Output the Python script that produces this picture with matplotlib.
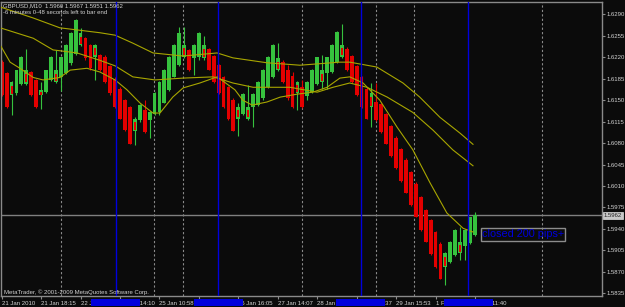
import matplotlib
matplotlib.use("Agg")
import matplotlib.pyplot as plt
from matplotlib.patches import Rectangle

# velas (indice de barra -> O, H, L, C)
opens = [1.6212, 1.6194, 1.6158, 1.6161, 1.6176, 1.6177, 1.6196, 1.6183, 1.6158, 1.6164,
         1.6183, 1.6180, 1.6188, 1.6195, 1.6210, 1.6226, 1.6240, 1.6251, 1.6240, 1.6221,
         1.6224, 1.6221, 1.6205, 1.6185, 1.6169, 1.6150, 1.6139, 1.6099, 1.6117, 1.6134,
         1.6117, 1.6128, 1.6131, 1.6146, 1.6166, 1.6188, 1.6207, 1.6221, 1.6232, 1.6218,
         1.6221, 1.6218, 1.6233, 1.6222, 1.6207, 1.6188, 1.6171, 1.6151, 1.6120, 1.6127,
         1.6120, 1.6139, 1.6142, 1.6153, 1.6172, 1.6188, 1.6199, 1.6213, 1.6200, 1.6189,
         1.6161, 1.6172, 1.6156, 1.6164, 1.6177, 1.6180, 1.6194, 1.6196, 1.6212, 1.6221,
         1.6234, 1.6222, 1.6206, 1.6188, 1.6169, 1.6139, 1.6147, 1.6144, 1.6127, 1.6108,
         1.6089, 1.6070, 1.6053, 1.6033, 1.6014, 1.5992, 1.5971, 1.5954, 1.5935, 1.5916,
         1.5878, 1.5886, 1.5897, 1.5900, 1.5912, 1.5917, 1.5930]
highs = [1.6215, 1.6196, 1.6181, 1.6200, 1.6222, 1.6233, 1.6198, 1.6185, 1.6180, 1.6200,
         1.6222, 1.6232, 1.6221, 1.6241, 1.6261, 1.6282, 1.6267, 1.6253, 1.6242, 1.6242,
         1.6226, 1.6223, 1.6207, 1.6187, 1.6171, 1.6152, 1.6141, 1.6122, 1.6143, 1.6151,
         1.6133, 1.6163, 1.6181, 1.6201, 1.6222, 1.6241, 1.6270, 1.6269, 1.6234, 1.6241,
         1.6261, 1.6255, 1.6235, 1.6224, 1.6209, 1.6190, 1.6173, 1.6153, 1.6145, 1.6161,
         1.6175, 1.6161, 1.6181, 1.6201, 1.6222, 1.6241, 1.6243, 1.6215, 1.6207, 1.6196,
         1.6181, 1.6183, 1.6181, 1.6201, 1.6221, 1.6224, 1.6221, 1.6241, 1.6262, 1.6274,
         1.6236, 1.6224, 1.6208, 1.6190, 1.6171, 1.6178, 1.6178, 1.6146, 1.6129, 1.6110,
         1.6091, 1.6072, 1.6055, 1.6035, 1.6016, 1.5994, 1.5973, 1.5956, 1.5937, 1.5918,
         1.5902, 1.5920, 1.5940, 1.5943, 1.5940, 1.5960, 1.5967]
lows = [1.6156, 1.6137, 1.6126, 1.6159, 1.6174, 1.6175, 1.6156, 1.6137, 1.6135, 1.6162,
        1.6181, 1.6178, 1.6165, 1.6193, 1.6208, 1.6224, 1.6238, 1.6216, 1.6200, 1.6183,
        1.6198, 1.6178, 1.6159, 1.6137, 1.6119, 1.6100, 1.6078, 1.6077, 1.6115, 1.6096,
        1.6088, 1.6126, 1.6126, 1.6145, 1.6165, 1.6187, 1.6206, 1.6219, 1.6198, 1.6191,
        1.6215, 1.6216, 1.6199, 1.6178, 1.6160, 1.6137, 1.6118, 1.6099, 1.6091, 1.6125,
        1.6118, 1.6106, 1.6140, 1.6151, 1.6170, 1.6186, 1.6197, 1.6178, 1.6151, 1.6137,
        1.6134, 1.6137, 1.6150, 1.6162, 1.6175, 1.6169, 1.6169, 1.6194, 1.6210, 1.6218,
        1.6198, 1.6178, 1.6157, 1.6138, 1.6119, 1.6107, 1.6116, 1.6097, 1.6078, 1.6058,
        1.6038, 1.6017, 1.5998, 1.5978, 1.5959, 1.5937, 1.5918, 1.5898, 1.5877, 1.5858,
        1.5848, 1.5885, 1.5896, 1.5889, 1.5889, 1.5916, 1.5929]
closes = [1.6158, 1.6139, 1.6180, 1.6199, 1.6221, 1.6199, 1.6158, 1.6139, 1.6166, 1.6199,
          1.6221, 1.6199, 1.6220, 1.6240, 1.6260, 1.6281, 1.6259, 1.6218, 1.6202, 1.6240,
          1.6199, 1.6180, 1.6161, 1.6139, 1.6120, 1.6101, 1.6079, 1.6120, 1.6142, 1.6098,
          1.6131, 1.6161, 1.6180, 1.6200, 1.6221, 1.6240, 1.6260, 1.6240, 1.6199, 1.6240,
          1.6260, 1.6240, 1.6200, 1.6180, 1.6161, 1.6139, 1.6120, 1.6100, 1.6139, 1.6160,
          1.6139, 1.6160, 1.6180, 1.6200, 1.6221, 1.6240, 1.6218, 1.6180, 1.6153, 1.6139,
          1.6180, 1.6139, 1.6180, 1.6200, 1.6220, 1.6199, 1.6220, 1.6240, 1.6261, 1.6240,
          1.6199, 1.6180, 1.6158, 1.6139, 1.6120, 1.6161, 1.6117, 1.6098, 1.6079, 1.6059,
          1.6039, 1.6018, 1.5999, 1.5979, 1.5960, 1.5938, 1.5919, 1.5899, 1.5878, 1.5859,
          1.5900, 1.5919, 1.5939, 1.5919, 1.5939, 1.5959, 1.5962]
# barras verdes con relleno rojo interior
mixed = [2, 5, 8, 11, 16, 19, 27, 37, 41, 48, 50, 56, 60, 65, 69, 75, 90, 93]

# medias moviles (barra, precio)
ma_slow_x = [-0.3, 6.4, 11.8, 19.9, 23.0, 26.6, 30.7, 36.8, 43.7, 46.9, 53.8, 60.5,
             68.6, 70.6, 76.1, 81.4, 84.8, 88.9, 93.0, 95.6]
ma_slow_y = [1.6302, 1.6284, 1.6268, 1.6260, 1.6256, 1.6243, 1.6227, 1.6222, 1.6227, 1.6219,
             1.6211, 1.6207, 1.6212, 1.6212, 1.6204, 1.6178, 1.6155, 1.6122, 1.6096, 1.6078]
ma_mid_x = [-0.3, 6.4, 10.4, 15.3, 19.9, 23.0, 26.6, 31.1, 36.8, 42.9, 46.9, 51.0, 58.5,
            64.0, 67.2, 70.6, 74.1, 78.2, 83.4, 87.5, 91.5, 95.6]
ma_mid_y = [1.6268, 1.6251, 1.6232, 1.6227, 1.6215, 1.6206, 1.6188, 1.6183, 1.6186, 1.6188,
            1.6178, 1.6171, 1.6171, 1.6163, 1.6171, 1.6178, 1.6171, 1.6155, 1.6130, 1.6101,
            1.6069, 1.6043]
ma_fast_x = [-0.3, 1.7, 3.7, 6.4, 8.4, 11.8, 13.9, 17.3, 19.9, 23.0, 25.4, 28.1, 30.7, 32.1,
             34.7, 36.8, 40.2, 43.7, 47.3, 48.9, 50.8, 53.8, 56.5, 60.1, 63.1, 66.0, 68.6,
             70.6, 73.3, 76.7, 80.2, 83.4, 86.9, 90.3, 93.6, 95.6]
ma_fast_y = [1.6240, 1.6212, 1.6202, 1.6187, 1.6183, 1.6187, 1.6199, 1.6202, 1.6196, 1.6183,
             1.6167, 1.6145, 1.6129, 1.6129, 1.6155, 1.6170, 1.6178, 1.6188, 1.6167, 1.6150,
             1.6142, 1.6147, 1.6155, 1.6160, 1.6163, 1.6171, 1.6186, 1.6188, 1.6178, 1.6150,
             1.6106, 1.6069, 1.6015, 1.5966, 1.5941, 1.5935]

price_ticks = [1.6290, 1.6255, 1.6220, 1.6185, 1.6150, 1.6115, 1.6080, 1.6045,
               1.6010, 1.5975, 1.5940, 1.5905, 1.5870, 1.5835]
time_ticks = [0, 8, 16, 24, 32, 40, 48, 56, 64, 72, 80, 88, 96]
time_labels = ["21 Jan 2010", "21 Jan 18:15", "22 Jan 06:35", "22 Jan 14:10",
               "25 Jan 10:58", "25 Jan 22:20", "26 Jan 16:05", "27 Jan 14:07",
               "28 Jan 09:45", "28 Jan 18:37", "29 Jan 15:53", "1 Feb 03:20", "1 Feb 11:40"]
separators = [12.0, 30.9, 36.8, 60.9, 75.9, 83.6, 109.6]
blue_lines = [23.1, 43.9, 72.8, 94.6]
last_price = 1.5962
note_text = "closed 200 pips+"
note_pos = (97.4, 1.5931)

BG = "#0b0b0b"
GREEN = "#36c23e"
RED = "#e30000"
MA_COL = "#a8a600"
GRAY = "#8a8a8a"
BLUE = "#0000dc"
TXT = "#d2d2d2"
FONT = "Liberation Sans"

W, H = 625, 307
fig = plt.figure(figsize=(W / 100, H / 100), dpi=100, facecolor=BG)
# area del grafico en pixeles: x 1..602, y 2..296
ax = fig.add_axes([1 / W, 1 - 296 / H, 601 / W, 294 / H], facecolor=BG)
ax.set_xlim(-0.14, 121.77)
ax.set_ylim(1.58306, 1.63101)

for s in ax.spines.values():
    s.set_color(GRAY)
    s.set_linewidth(1)

# separadores de periodo y lineas verticales azules
for x in separators:
    ax.axvline(x, color=GRAY, lw=0.8, ls=(0, (2, 2)), zorder=1)
for x in blue_lines:
    ax.axvline(x, color=BLUE, lw=1, zorder=4)
ax.axhline(last_price, color="#808080", lw=1, zorder=1)

# velas
for i in range(len(opens)):
    o, h, l, c = opens[i], highs[i], lows[i], closes[i]
    col = GREEN if c >= o else RED
    ax.vlines(i, l, h, color=col, lw=0.8, zorder=2)
    ax.bar(i, max(abs(c - o), 0.0002), bottom=min(o, c), width=0.78,
           color=col, linewidth=0, zorder=2)
    if i in mixed:
        lo, hi = min(o, c), max(o, c)
        ax.bar(i, (hi - lo) * 0.6, bottom=lo + (hi - lo) * 0.1, width=0.4,
               color=RED, linewidth=0, zorder=2.5)

ax.plot(ma_slow_x, ma_slow_y, color=MA_COL, lw=0.8, zorder=3)
ax.plot(ma_mid_x, ma_mid_y, color=MA_COL, lw=0.8, zorder=3)
ax.plot(ma_fast_x, ma_fast_y, color=MA_COL, lw=0.8, zorder=3)

# ejes
ax.yaxis.tick_right()
ax.set_yticks(price_ticks)
ax.set_yticklabels(["%.4f" % p for p in price_ticks], fontfamily=FONT)
ax.tick_params(axis="y", colors=GRAY, labelcolor=TXT, labelsize=4.3, length=2, pad=1.5)
ax.set_xticks(time_ticks)
ax.set_xticklabels(time_labels, fontfamily=FONT, ha="left")
ax.tick_params(axis="x", colors=GRAY, labelcolor=TXT, labelsize=4.3, length=2, pad=1.5)

# cajas azules de las lineas verticales sobre el eje de tiempo
for x in blue_lines:
    ax.add_patch(Rectangle((x - 4.97, -0.033), 9.94, 0.023, transform=ax.get_xaxis_transform(),
                           facecolor=BLUE, edgecolor="none", clip_on=False, zorder=10))

# etiqueta del precio actual
ax.text(1.003, last_price, "%.4f" % last_price, transform=ax.get_yaxis_transform(),
        fontsize=4.3, fontfamily=FONT, color="#202020", va="center", ha="left",
        bbox=dict(boxstyle="square,pad=0.15", facecolor="#c8c8c8", edgecolor="#e0e0e0", lw=0.5),
        clip_on=False, zorder=10)

ax.text(note_pos[0], note_pos[1], note_text, fontsize=7.8, fontfamily=FONT, color=BLUE,
        va="center", ha="left", zorder=6,
        bbox=dict(boxstyle="square,pad=0.12", facecolor="none", edgecolor="#8c8c8c", lw=1))

fig.text(3 / W, 1 - 6 / H, "GBPUSD,M10  1.5960 1.5967 1.5951 1.5962", fontsize=4.3,
         fontfamily=FONT, color=TXT, va="center", ha="left")
fig.text(3 / W, 1 - 12.8 / H, "-6 minutes 0-48 seconds left to bar end", fontsize=4.3,
         fontfamily=FONT, color=TXT, va="center", ha="left")
fig.text(3.5 / W, 1 - 291.7 / H, "MetaTrader, \u00a9 2001-2009 MetaQuotes Software Corp.",
         fontsize=4.3, fontfamily=FONT, color=TXT, va="center", ha="left")

fig.savefig("out.png", dpi=100, facecolor=BG)
